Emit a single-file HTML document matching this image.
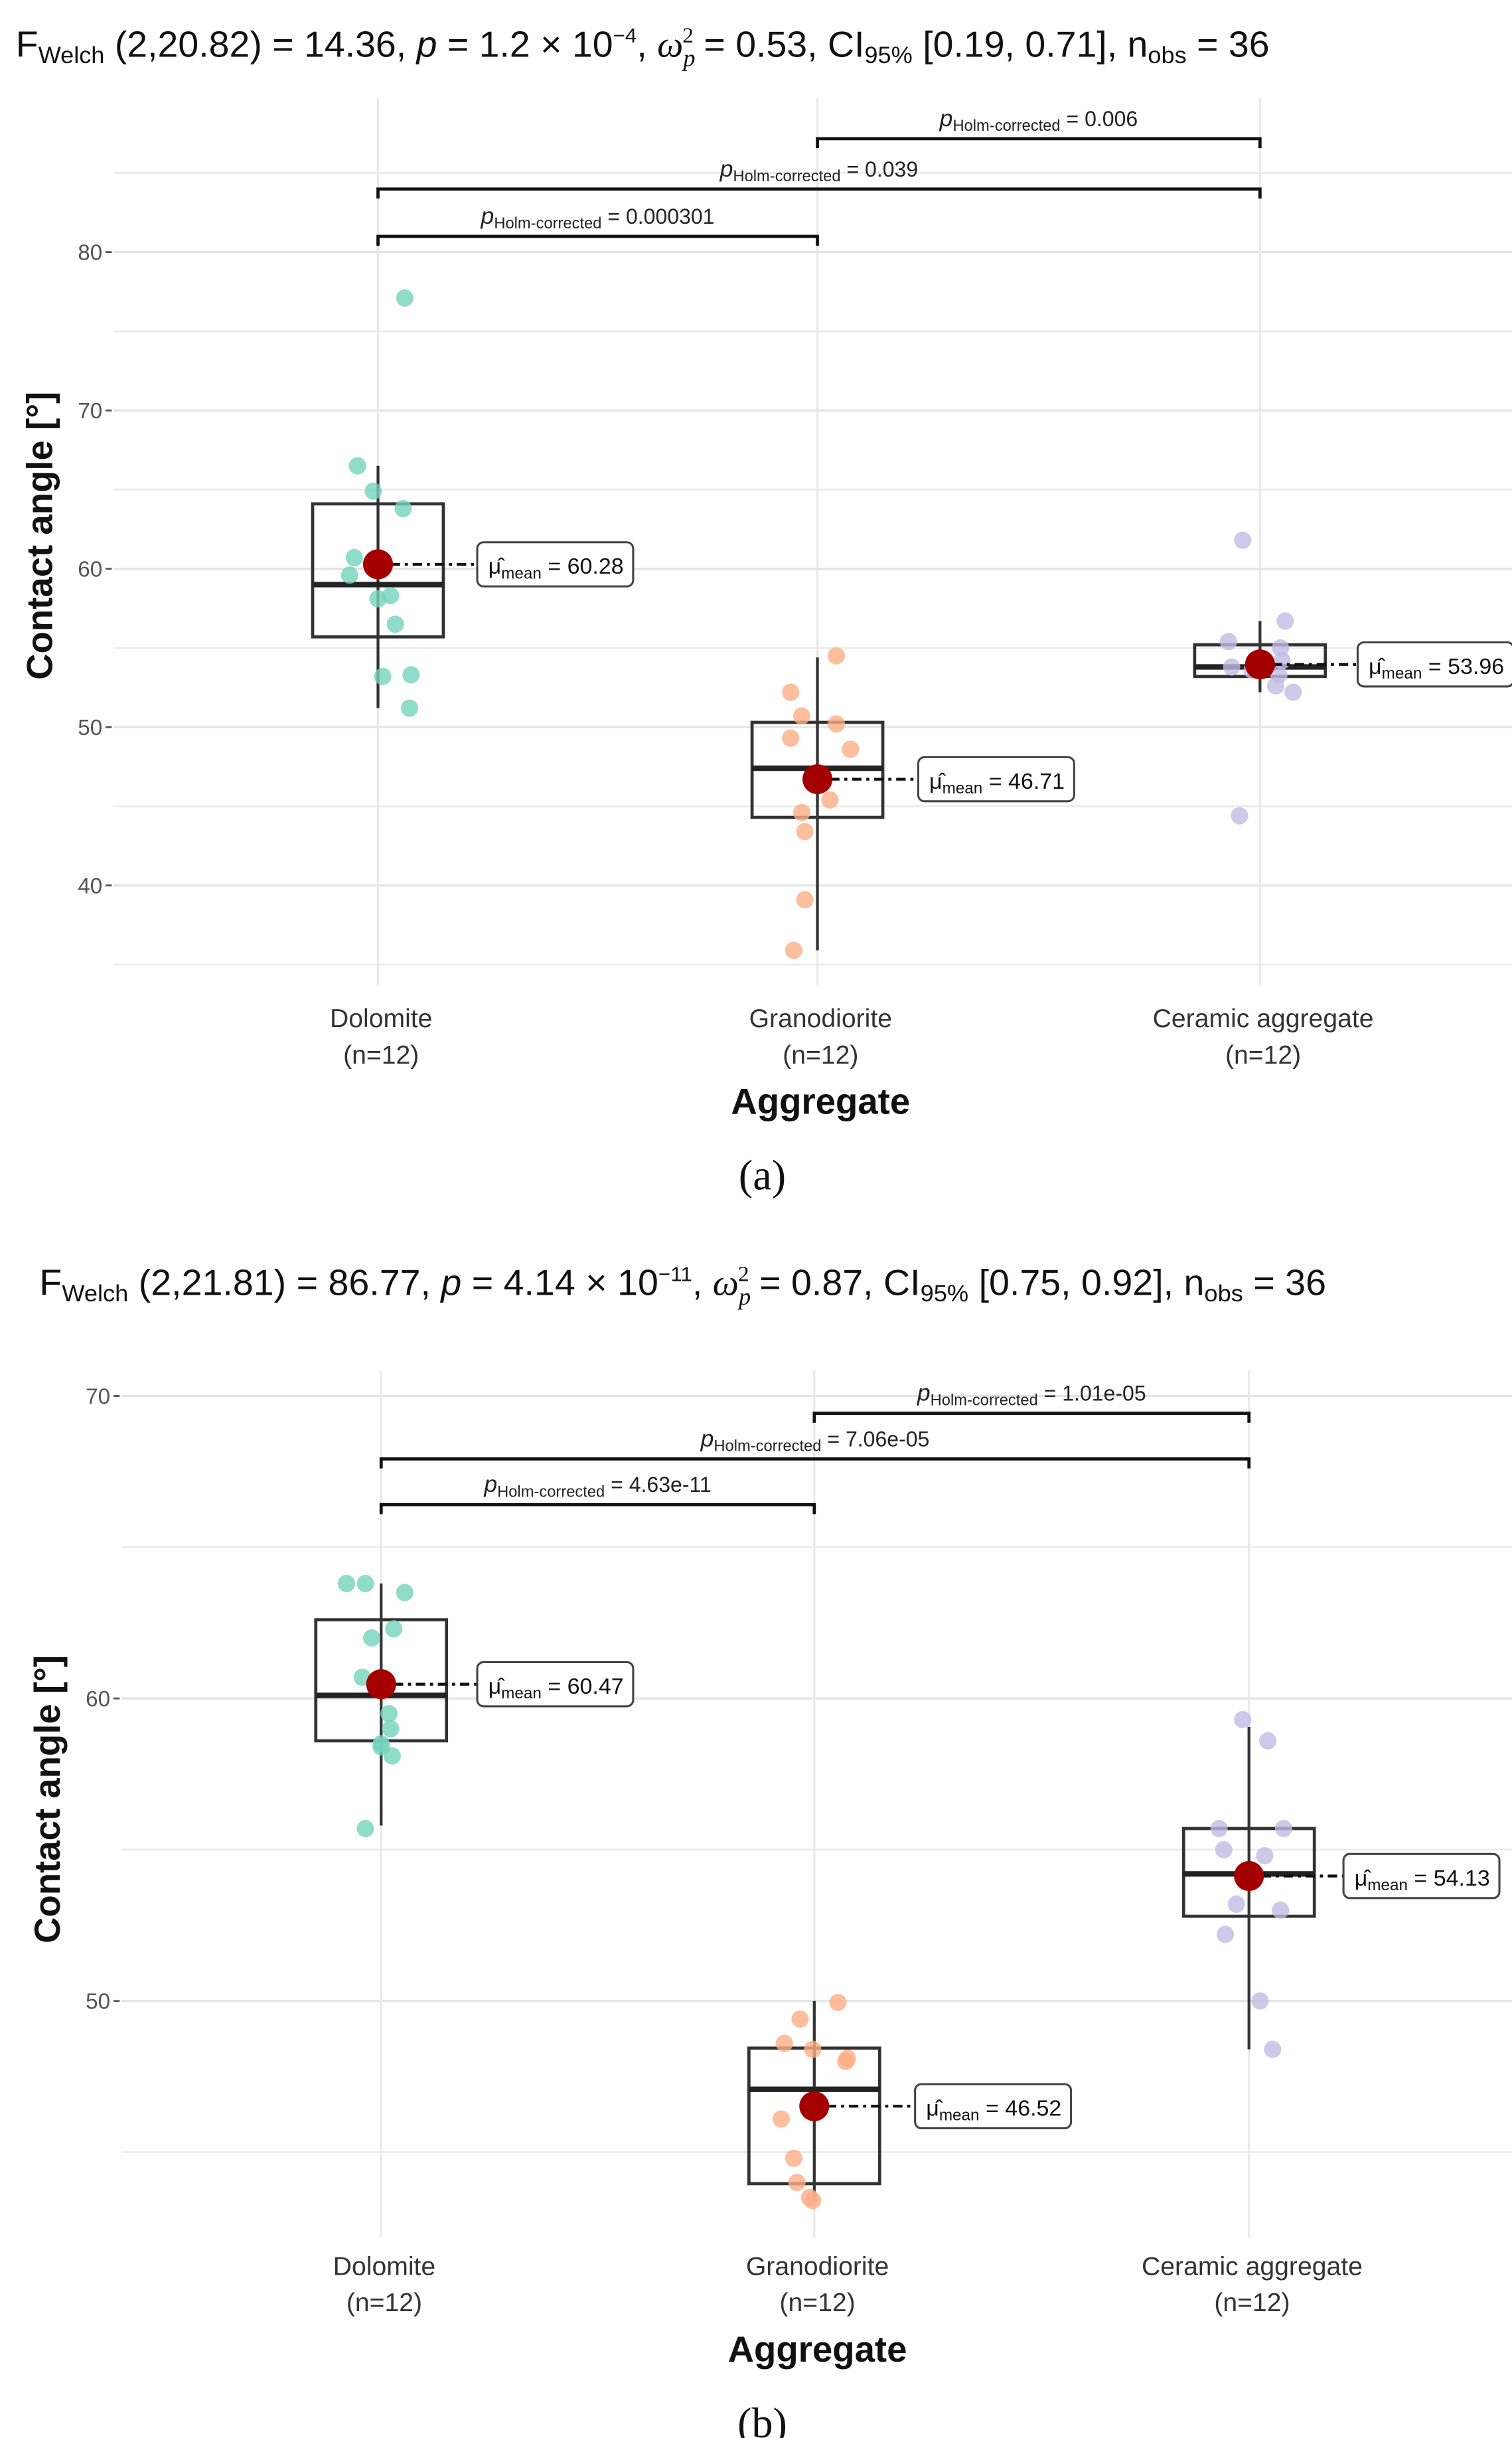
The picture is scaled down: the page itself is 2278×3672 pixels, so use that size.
<!DOCTYPE html>
<html><head><meta charset="utf-8">
<style>
html,body{margin:0;padding:0;background:#fff;}
svg{display:block;}
text{font-family:"Liberation Sans",sans-serif;}
</style></head>
<body>
<svg id="fig" width="2278" height="3672" viewBox="0 0 960 1547.4" preserveAspectRatio="none" xmlns="http://www.w3.org/2000/svg">
</svg>
<script>
// Panel (a) data
const categories = ["Dolomite", "Granodiorite", "Ceramic aggregate"];
const aPoints0 = [77.1,66.5,64.9,63.8,60.7,59.6,58.3,58.1,56.5,53.2,53.3,51.2];
const aPoints1 = [54.5,52.2,50.7,50.2,49.3,48.6,46.7,45.4,44.6,43.4,39.1,35.9];
const aPoints2 = [61.8,56.7,55.4,55.0,54.2,54.0,53.8,53.6,53.3,52.6,52.2,44.4];
const aJitter0 = [17,-13,-3,16,-15,-18,8,0,11,3,21,20];
const aJitter1 = [12,-17,-10,12,-17,21,0,8,-10,-8,-8,-15];
const aJitter2 = [-11,16,-20,13,14,3,-18,-5,12,10,21,-13];
const aQ1 = [55.7,44.3,53.2];
const aMedian = [59.0,47.4,53.8];
const aQ3 = [64.1,50.3,55.2];
const aWhiskLo = [51.2,35.9,52.2];
const aWhiskHi = [66.5,54.4,56.7];
const aMeans = [60.28,46.71,53.96];
const aTicks = [40,50,60,70,80];
const aPvals = ["0.000301","0.039","0.006"];
// Panel (b) data
const bPoints0 = [63.8,63.8,63.5,62.3,62.0,60.7,59.5,59.0,58.5,58.4,58.1,55.7];
const bPoints1 = [49.95,49.4,48.6,48.4,48.1,48.0,46.5,46.1,44.8,44.0,43.5,43.4];
const bPoints2 = [59.3,58.6,55.7,55.7,55.0,54.8,54.1,53.2,53.0,52.2,50.0,48.4];
const bJitter0 = [-22,-10,15,8,-6,-12,5,6,0,0,7,-10];
const bJitter1 = [15,-9,-19,-1,21,20,0,-21,-13,-11,-3,-1];
const bJitter2 = [-4,12,-19,22,-16,10,0,-8,20,-15,7,15];
const bQ1 = [58.6,43.96,52.8];
const bMedian = [60.1,47.08,54.2];
const bQ3 = [62.6,48.44,55.7];
const bWhiskLo = [55.8,43.4,48.4];
const bWhiskHi = [63.8,50.0,59.06];
const bMeans = [60.47,46.52,54.13];
const bTicks = [50,60,70];
const bPvals = ["4.63e-11","7.06e-05","1.01e-05"];

const NS="http://www.w3.org/2000/svg";
const svg=document.getElementById('fig');
function el(tag,attrs,parent,txt){const e=document.createElementNS(NS,tag);for(const k in attrs)e.setAttribute(k,attrs[k]);if(txt!==undefined)e.textContent=txt;(parent||svg).appendChild(e);return e;}
const colors=["#74d3bd","#fcae86","#c2bce3"];

function panel(cfg){
  const g=el('g',{});
  
  
  const y=v=>cfg.y0+(v-cfg.v0)*cfg.k;
  const xs=cfg.xs;
  const t=el('text',{x:cfg.tx,y:cfg.ty,'font-size':23,fill:'#111',textLength:cfg.tlen,lengthAdjust:'spacingAndGlyphs'},g);
  
  
  cfg.title.forEach(p=>{el('tspan',p.a||{},t,p.s);});
  cfg.minor.forEach(v=>{const l=el('line',{x1:cfg.left,x2:960,y1:y(v),y2:y(v),stroke:'#ececec','stroke-width':1.2},g);});
  cfg.ticks.forEach(v=>{
    const l=el('line',{x1:cfg.left,x2:960,y1:y(v),y2:y(v),stroke:'#e4e4e4','stroke-width':1.4},g);
    
    
    el('line',{x1:cfg.left-5,x2:cfg.left-1,y1:y(v),y2:y(v),stroke:'#555','stroke-width':1.2},g);
    const tl=el('text',{x:cfg.left-7,y:y(v)+5,'font-size':14,fill:'#555','text-anchor':'end'},g,v);
    
    
  });
  xs.forEach(x=>{const l=el('line',{x1:x,x2:x,y1:cfg.top,y2:cfg.bottom,stroke:'#e8e8e8','stroke-width':1.3},g);});
  const yt=el('text',{x:0,y:0,'font-size':23,'font-weight':'bold',fill:'#111','text-anchor':'middle',transform:`translate(${cfg.ytx},${cfg.yty}) rotate(-90)`},g,'Contact angle [°]');
  
  
  const br=[[0,1],[0,2],[1,2]];
  br.forEach((b,i)=>{
    const by=cfg.by[i];
    const p=el('path',{d:`M${xs[b[0]]},${by+6}V${by}H${xs[b[1]]}V${by+6}`,fill:'none',stroke:'#111','stroke-width':2},g);
    
    
    const lt=el('text',{x:(xs[b[0]]+xs[b[1]])/2,y:by-8,'font-size':13.5,fill:'#222','text-anchor':'middle'},g);
    
    
    el('tspan',{'font-style':'italic','font-size':15},lt,'p');
    el('tspan',{'font-size':10,dy:3},lt,'Holm-corrected');
    el('tspan',{dy:-3},lt,' = '+cfg.pvals[i]);
  });
  for(let i=0;i<3;i++){
    const x=xs[i],w=cfg.bw;
    const wl=el('line',{x1:x,x2:x,y1:y(cfg.wlo[i]),y2:y(cfg.whi[i]),stroke:'#333','stroke-width':1.8},g);
    
    
    const r=el('rect',{x:x-w/2,y:y(cfg.q3[i]),width:w,height:y(cfg.q1[i])-y(cfg.q3[i]),fill:'none',stroke:'#333','stroke-width':2},g);
    
    
    const m=el('line',{x1:x-w/2,x2:x+w/2,y1:y(cfg.med[i]),y2:y(cfg.med[i]),stroke:'#222','stroke-width':3.5},g);
    
    
    cfg.pts[i].forEach((v,j)=>{
      const c=el('circle',{cx:x+cfg.jit[i][j],cy:y(v),r:5.5,fill:colors[i],'fill-opacity':0.8},g);
      
      
    });
    const ym=y(cfg.means[i]);
    const lx=cfg.lx[i];
    el('line',{x1:x+8,x2:lx,y1:ym,y2:ym,stroke:'#111','stroke-width':1.8,'stroke-dasharray':'6,3,2,3'},g);
    const mc=el('circle',{cx:x,cy:ym,r:9.5,fill:'#a50000'},g);
    
    
    const lr=el('rect',{x:lx,y:ym-14,width:99,height:28,rx:4,fill:'#fff',stroke:'#444','stroke-width':1.3},g);
    
    
    const mt=el('text',{x:lx+7,y:ym+6,'font-size':14,fill:'#111',textLength:86,lengthAdjust:'spacingAndGlyphs'},g);
    
    
    el('tspan',{},mt,'μ̂');
    el('tspan',{'font-size':10,dy:3},mt,'mean');
    el('tspan',{dy:-3},mt,' = '+cfg.means[i].toFixed(2));
    const xl=el('text',{x:x+2,y:cfg.xly,'font-size':16.5,fill:'#333','text-anchor':'middle'},g,categories[i]);
    
    
    el('text',{x:x+2,y:cfg.xly+23,'font-size':16.5,fill:'#333','text-anchor':'middle'},g,'(n=12)');
  }
  const xt=el('text',{x:cfg.xs[1]+2,y:cfg.xly+55,'font-size':23,'font-weight':'bold',fill:'#111','text-anchor':'middle'},g,'Aggregate');
  
  
  const pl=el('text',{x:484,y:cfg.xly+103,'font-size':27,fill:'#111','text-anchor':'middle',style:'font-family:"Liberation Serif",serif'},g,cfg.plabel);
  
  
}
function title(F,df,p,pexp,w,ci){
  return [
    {s:'F'},{s:'Welch',a:{'font-size':15,dy:4}},{s:' ('+df+') = '+F+', ',a:{dy:-4}},
    {s:'p',a:{'font-style':'italic'}},{s:' = '+p+' × 10'},{s:pexp,a:{'font-size':13,dy:-9}},
    {s:',  ',a:{dy:9}},{s:'ω',a:{'font-style':'italic',style:'font-family:"Liberation Serif",serif'}},
    {s:'p',a:{'font-style':'italic','font-size':15,dy:6,style:'font-family:"Liberation Serif",serif'}},
    {s:'2',a:{'font-size':14,dy:-15,dx:-8,style:'font-family:"Liberation Serif",serif'}},
    {s:'   = '+w+', CI',a:{dy:9}},{s:'95%',a:{'font-size':15,dy:4}},{s:' ['+ci+'], n',a:{dy:-4}},
    {s:'obs',a:{'font-size':15,dy:4}},{s:' = 36',a:{dy:-4}}
  ];
}
panel({name:'panel-a',plabel:'(a)',tx:10,ty:36,tlen:796,title:title('14.36','2,20.82','1.2','−4','0.53','0.19, 0.71'),
  y0:160,v0:80,k:-10.05,left:72,top:62,bottom:625,xs:[240,519,800],bw:83,
  ticks:aTicks,minor:[35,45,55,65,75,85],ytx:33,yty:340,by:[150,120,88],pvals:aPvals,
  pts:[aPoints0,aPoints1,aPoints2],jit:[aJitter0,aJitter1,aJitter2],
  q1:aQ1,q3:aQ3,med:aMedian,wlo:aWhiskLo,whi:aWhiskHi,means:aMeans,lx:[303,583,862],xly:652});
panel({name:'panel-b',plabel:'(b)',tx:25,ty:822,tlen:817,title:title('86.77','2,21.81','4.14','−11','0.87','0.75, 0.92'),
  y0:886,v0:70,k:-19.2,left:77,top:870,bottom:1420,xs:[242,517,793],bw:83,
  ticks:bTicks,minor:[45,55,65],ytx:38,yty:1142,by:[955,926,897],pvals:bPvals,
  pts:[bPoints0,bPoints1,bPoints2],jit:[bJitter0,bJitter1,bJitter2],
  q1:bQ1,q3:bQ3,med:bMedian,wlo:bWhiskLo,whi:bWhiskHi,means:bMeans,lx:[303,581,853],xly:1444});
</script>
</body></html>
